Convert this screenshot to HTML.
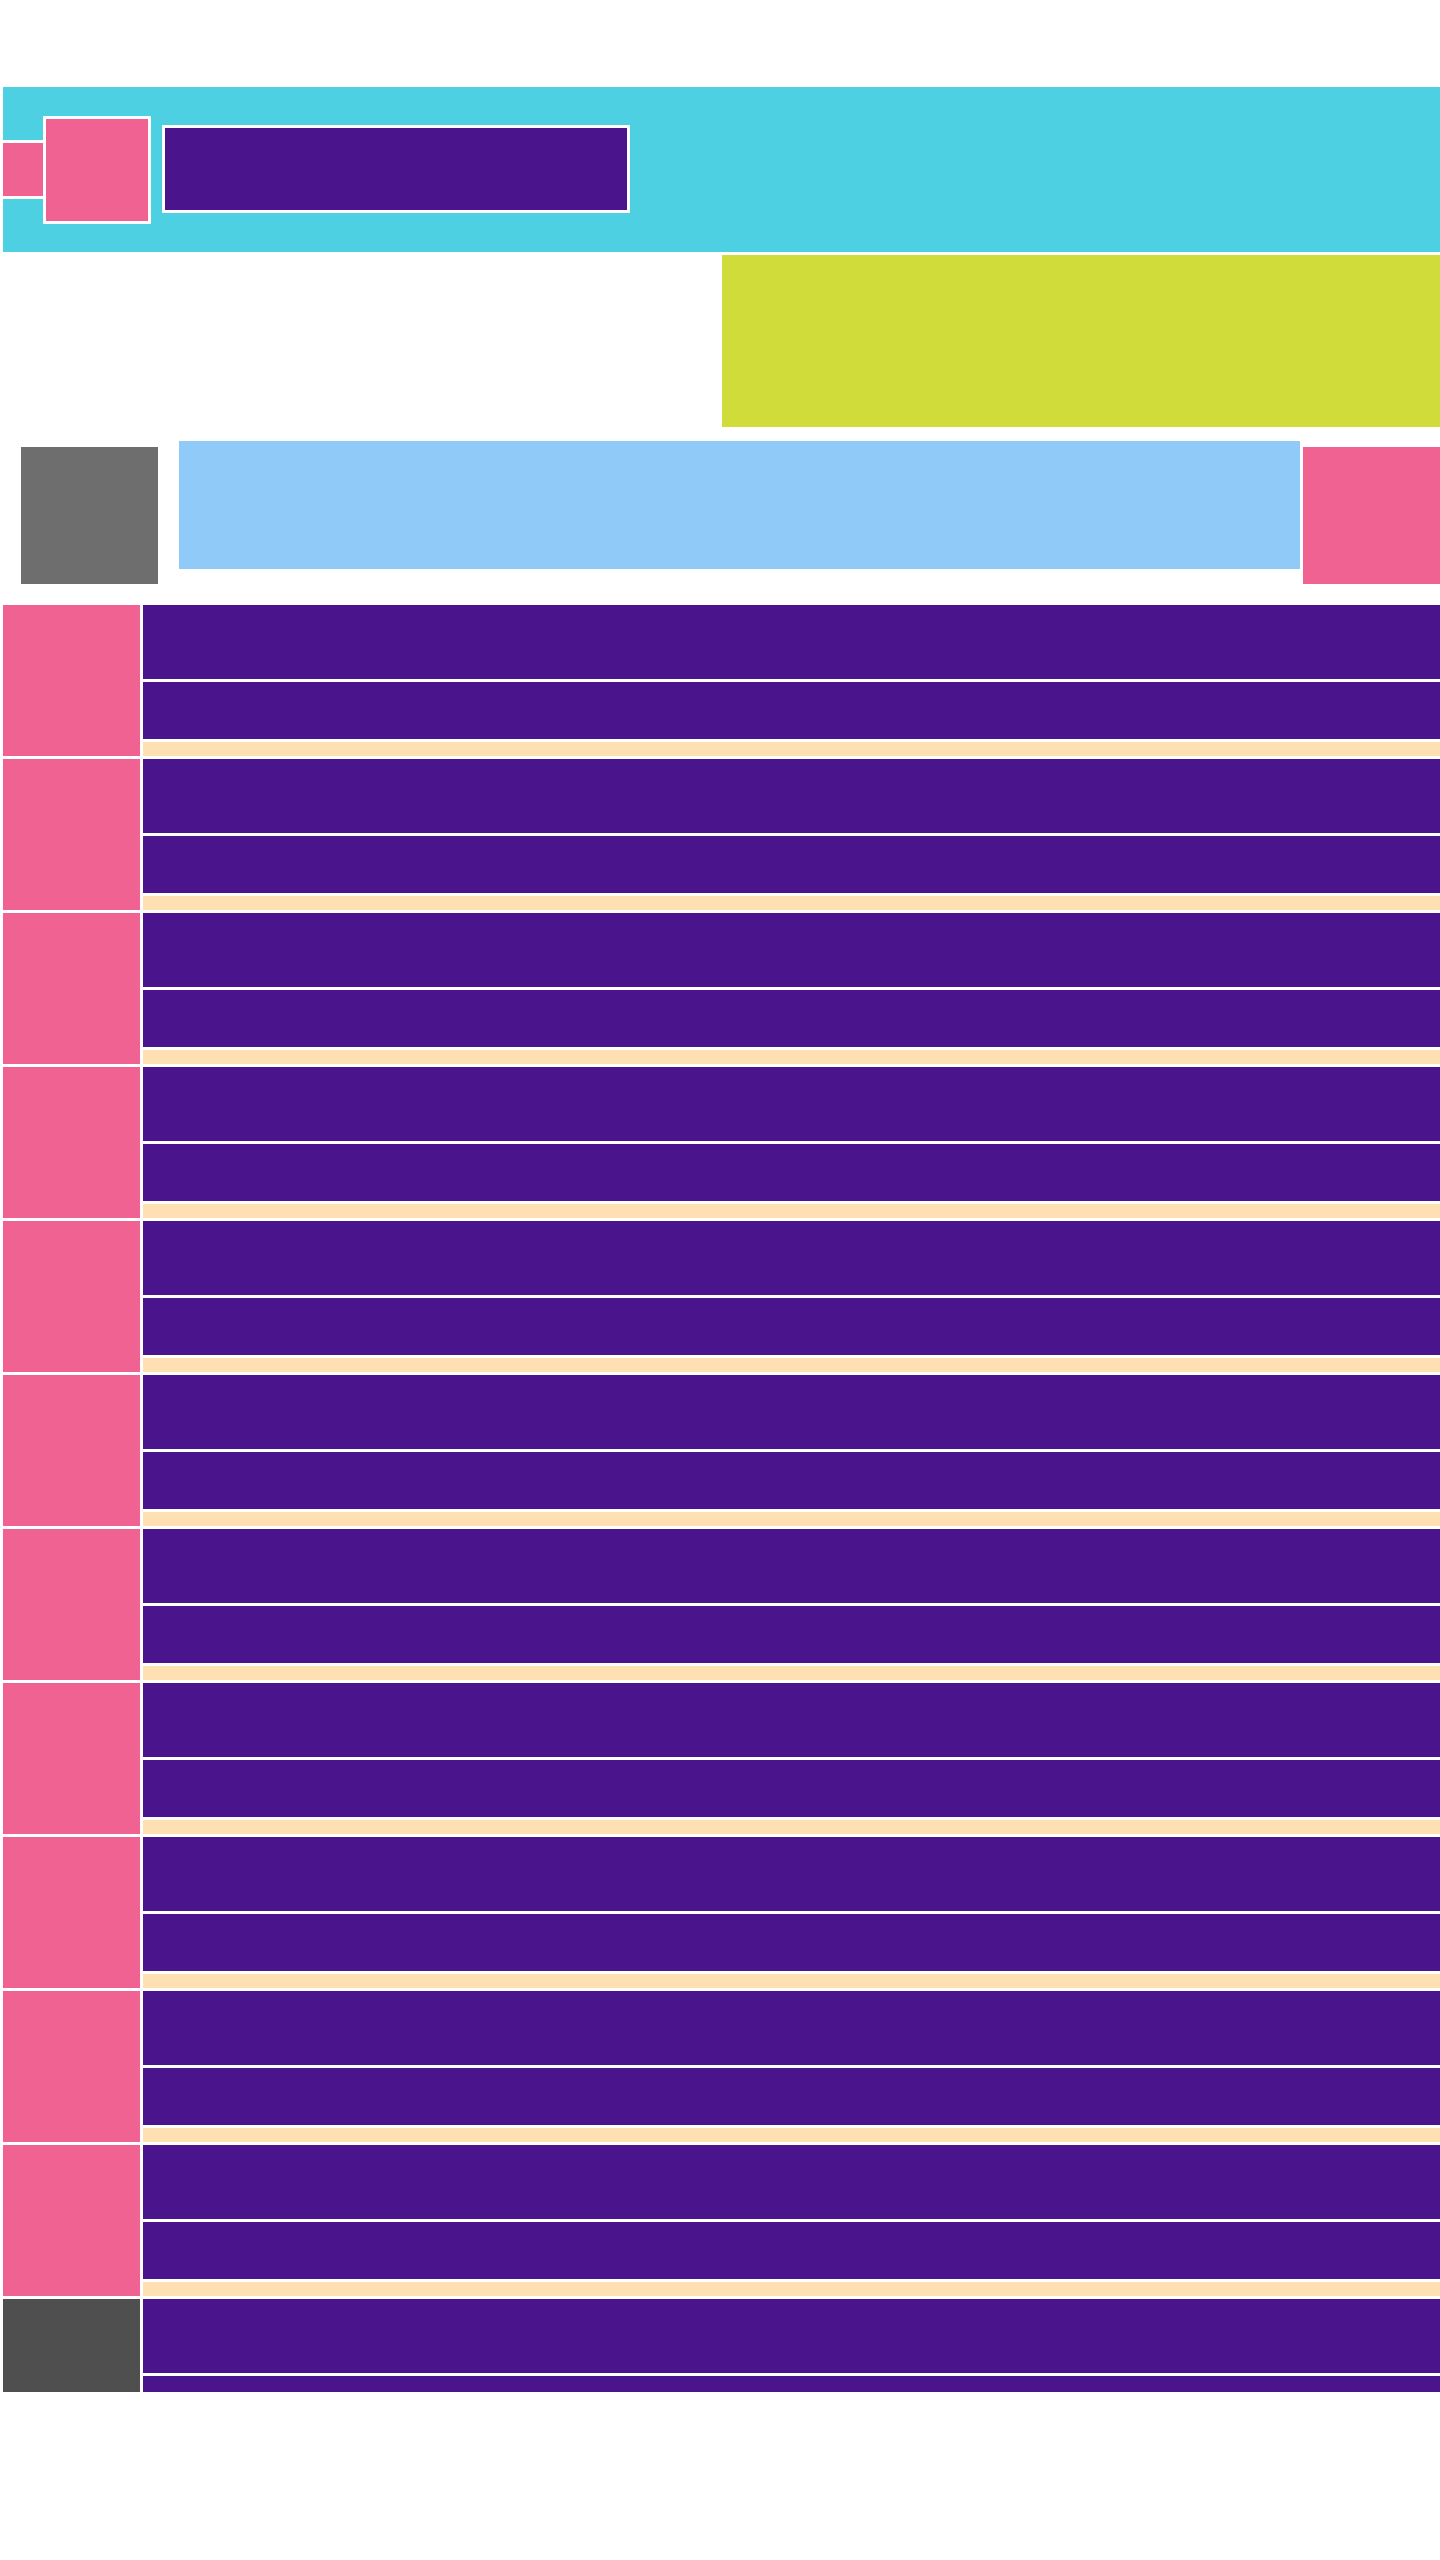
<!DOCTYPE html>
<html><head><meta charset="utf-8"><style>
body{margin:0;width:1440px;height:2560px;background:#fff;position:relative;overflow:hidden;font-family:"Liberation Sans",sans-serif}
div{position:absolute;box-sizing:border-box}
.p{background:#4a148c}.k{background:#f06292}.c{background:#ffe0b2}
</style></head><body>
<div style="left:3px;top:87px;width:1437px;height:165px;background:#4dd0e1"></div>
<div style="left:3px;top:140px;width:43px;height:59px;background:#f06292;border:3px solid #fff;border-left:none"></div>
<div style="left:43px;top:116px;width:108px;height:108px;background:#f06292;border:3px solid #fff"></div>
<div style="left:162px;top:125px;width:468px;height:88px;background:#4a148c;border:3px solid #fff"></div>
<div style="left:722px;top:255px;width:718px;height:172px;background:#cfdc3a"></div>
<div style="left:21px;top:447px;width:137px;height:137px;background:#6e6e6e"></div>
<div style="left:179px;top:441px;width:1121px;height:128px;background:#90caf9"></div>
<div style="left:1303px;top:447px;width:137px;height:137px;background:#f06292"></div>
<div id="rows"></div>
<script>
const rowCount = [12];
const rows = document.getElementById('rows');
for (let i = 0; i < rowCount[0]; i++) {
  const top = 605 + i * 154;
  const last = i === rowCount[0] - 1;
  const side = document.createElement('div');
  
  
  side.style.cssText = `left:3px;top:${top}px;width:137px;height:${last ? 93 : 151}px;background:${last ? '#4f4f4f' : '#f06292'}`;
  rows.appendChild(side);
  const a = document.createElement('div');
  
  
  a.className = 'p';
  a.style.cssText = `left:143px;top:${top}px;width:1297px;height:74px`;
  rows.appendChild(a);
  const b = document.createElement('div');
  
  
  b.className = 'p';
  b.style.cssText = `left:143px;top:${top + 77}px;width:1297px;height:${last ? 16 : 57}px`;
  rows.appendChild(b);
  if (!last) {
    const c = document.createElement('div');
    
    
    c.className = 'c';
    c.style.cssText = `left:143px;top:${top + 137}px;width:1297px;height:14px`;
    rows.appendChild(c);
  }
}
</script>
</body></html>
